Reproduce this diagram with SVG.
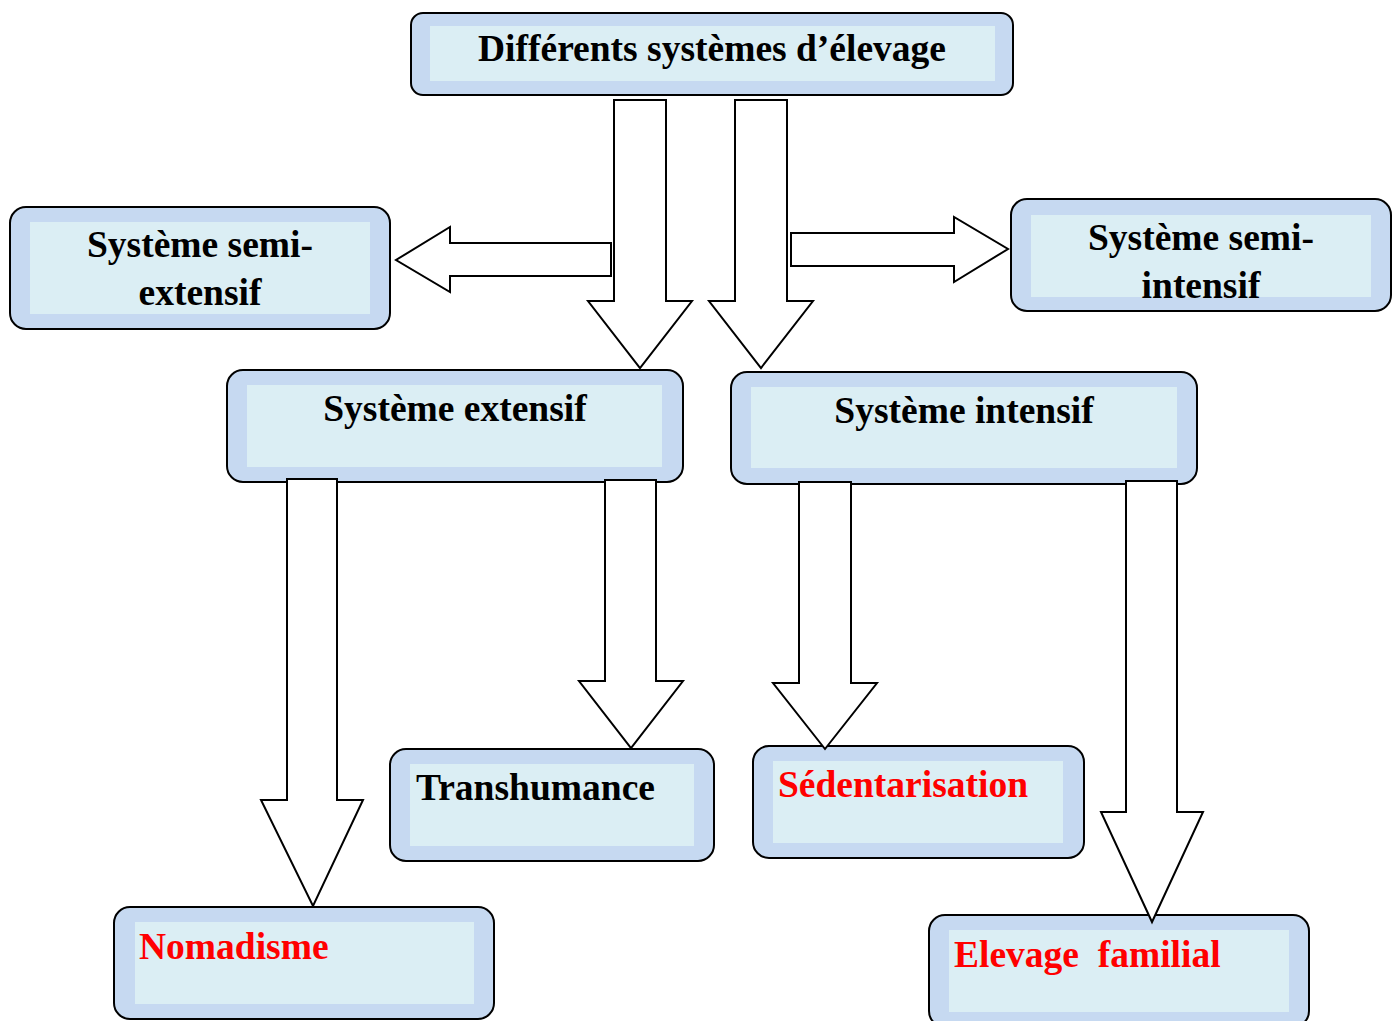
<svg xmlns="http://www.w3.org/2000/svg" width="1399" height="1021" viewBox="0 0 1399 1021">
<style>
.outer{fill:#c6d9f1;stroke:#000;stroke-width:2}
.inner{fill:#dbeef4}
.t{font-family:"Liberation Serif","Times New Roman",serif;font-weight:bold;font-size:37.5px;fill:#000}
.c{text-anchor:middle}
.red{fill:#ff0000}
.arrow{fill:#fff;stroke:#000;stroke-width:2;stroke-linejoin:miter}
</style>
<rect width="1399" height="1021" fill="#fff"/>
<g id="node-top">
<rect class="outer" x="411" y="13" width="602" height="82" rx="12"/>
<rect class="inner" x="430" y="26" width="565" height="55"/>
<text class="t c" x="712" y="61">Différents systèmes d’élevage</text>
</g>
<g id="node-semi-extensif">
<rect class="outer" x="10" y="207" width="380" height="122" rx="16"/>
<rect class="inner" x="30" y="222" width="340" height="92"/>
<text class="t c" x="200" y="257">Système semi-</text>
<text class="t c" x="200" y="305">extensif</text>
</g>
<g id="node-semi-intensif">
<rect class="outer" x="1011" y="199" width="380" height="112" rx="16"/>
<rect class="inner" x="1031" y="215" width="340" height="82"/>
<text class="t c" x="1201" y="250">Système semi-</text>
<text class="t c" x="1201" y="298">intensif</text>
</g>
<g id="node-extensif">
<rect class="outer" x="227" y="370" width="456" height="112" rx="16"/>
<rect class="inner" x="247" y="385" width="415" height="82"/>
<text class="t c" x="455" y="421">Système extensif</text>
</g>
<g id="node-intensif">
<rect class="outer" x="731" y="372" width="466" height="112" rx="16"/>
<rect class="inner" x="751" y="387" width="426" height="81"/>
<text class="t c" x="964" y="423">Système intensif</text>
</g>
<g id="node-transhumance">
<rect class="outer" x="390" y="749" width="324" height="112" rx="16"/>
<rect class="inner" x="410" y="764" width="284" height="82"/>
<text class="t" x="416" y="800">Transhumance</text>
</g>
<g id="node-sedentarisation">
<rect class="outer" x="753" y="746" width="331" height="112" rx="16"/>
<rect class="inner" x="773" y="761" width="290" height="82"/>
<text class="t red" x="778" y="797">Sédentarisation</text>
</g>
<g id="node-nomadisme">
<rect class="outer" x="114" y="907" width="380" height="112" rx="16"/>
<rect class="inner" x="135" y="922" width="339" height="82"/>
<text class="t red" x="139" y="959">Nomadisme</text>
</g>
<g id="node-elevage-familial">
<rect class="outer" x="929" y="915" width="380" height="112" rx="16"/>
<rect class="inner" x="949" y="930" width="340" height="82"/>
<text class="t red" x="954" y="967" xml:space="preserve">Elevage  familial</text>
</g>
<g id="connectors">
<polygon class="arrow" points="614,100 666,100 666,301 692,301 640,368 588,301 614,301"/>
<polygon class="arrow" points="735,100 787,100 787,301 813,301 761,368 709,301 735,301"/>
<polygon class="arrow" points="611,243 611,276 450,276 450,292 396,260 450,227 450,243"/>
<polygon class="arrow" points="791,233 954,233 954,217 1008,249 954,282 954,266 791,266"/>
<polygon class="arrow" points="287,479 337,479 337,800 363,800 313,906 261,800 287,800"/>
<polygon class="arrow" points="605,480 656,480 656,681 683,681 631,748 579,681 605,681"/>
<polygon class="arrow" points="799,482 851,482 851,683 877,683 825,749 773,683 799,683"/>
<polygon class="arrow" points="1126,481 1177,481 1177,812 1203,812 1152,922 1101,812 1126,812"/>
</g>
</svg>
